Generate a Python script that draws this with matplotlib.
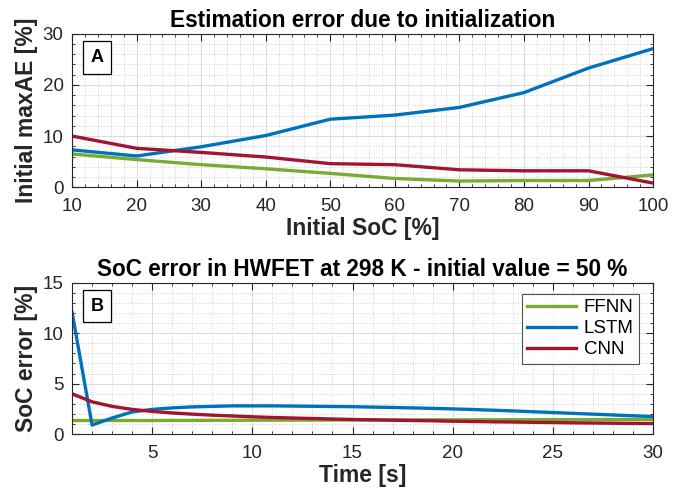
import numpy as np
import matplotlib
matplotlib.use('Agg')
import matplotlib.pyplot as plt
from matplotlib.ticker import MultipleLocator

plt.rcParams['font.family'] = ['Liberation Sans', 'DejaVu Sans']

# initial SoC sweep (panel A)
soc_init = [10, 20, 30, 40, 50, 60, 70, 80, 90, 100]
ffnn_maxae = [6.5, 5.4, 4.4, 3.6, 2.7, 1.7, 1.2, 1.3, 1.3, 2.4]
lstm_maxae = [7.3, 6.1, 7.9, 10.1, 13.3, 14.1, 15.6, 18.5, 23.3, 27.1]
cnn_maxae = [10.0, 7.6, 6.8, 5.9, 4.6, 4.4, 3.4, 3.2, 3.2, 0.8]

# HWFET error over the first 30 s (panel B)
time_s = list(range(1, 31))
ffnn_err = [1.35, 1.35, 1.35, 1.35, 1.35, 1.36, 1.36, 1.37, 1.37, 1.38,
            1.38, 1.39, 1.39, 1.40, 1.40, 1.40, 1.41, 1.41, 1.42, 1.42,
            1.42, 1.43, 1.43, 1.43, 1.44, 1.44, 1.44, 1.45, 1.45, 1.45]
lstm_err = [12.1, 0.9, 1.6, 2.2, 2.45, 2.6, 2.7, 2.75, 2.8, 2.8,
            2.8, 2.78, 2.76, 2.74, 2.72, 2.68, 2.64, 2.6, 2.55, 2.5,
            2.44, 2.37, 2.3, 2.22, 2.14, 2.06, 1.98, 1.9, 1.82, 1.74]
cnn_err = [4.0, 3.2, 2.75, 2.45, 2.25, 2.1, 1.98, 1.88, 1.8, 1.72,
           1.65, 1.6, 1.55, 1.5, 1.45, 1.42, 1.38, 1.35, 1.32, 1.28,
           1.25, 1.22, 1.2, 1.17, 1.15, 1.12, 1.1, 1.08, 1.06, 1.05]

green = '#77AC30'
blue = '#0072BD'
red = '#A2142F'
ink = '#262626'
lw = 2.4


def style_axes(ax):
    ax.grid(which='major', color='#dcdcdc', linestyle='-', linewidth=0.8)
    ax.grid(which='minor', color='#d0d0d0', linestyle=':', linewidth=0.7)
    ax.set_axisbelow(True)
    ax.tick_params(which='both', direction='in', top=True, right=True,
                   labelsize=13.5, colors=ink)
    ax.tick_params(axis='x', which='major', pad=8)
    ax.tick_params(axis='y', which='major', pad=6)
    ax.tick_params(which='major', length=5, width=0.8)
    ax.tick_params(which='minor', length=2.5, width=0.6)
    for sp in ax.spines.values():
        sp.set_color(ink)
        sp.set_linewidth(0.8)


def label_axes(ax, title, xlabel, ylabel):
    ax.set_title(title, fontsize=16.3, fontweight='bold', pad=5)
    ax.set_xlabel(xlabel, fontsize=16.5, fontweight='bold', color=ink, labelpad=1)
    ax.set_ylabel(ylabel, fontsize=16.5, fontweight='bold', color=ink)
    ax.yaxis.set_label_coords(-0.058, 0.5)


def panel_tag(ax, s):
    ax.text(0.043, 0.845, s, transform=ax.transAxes, fontsize=13,
            fontweight='bold', ha='center', va='center', zorder=5,
            bbox=dict(boxstyle='square,pad=0.42', fc='white', ec='black', lw=0.9))


fig = plt.figure(figsize=(6.86, 4.90), dpi=100)
ax1 = fig.add_axes([0.105, 0.618, 0.847, 0.313])
ax2 = fig.add_axes([0.105, 0.114, 0.847, 0.309])

ax1.plot(soc_init, ffnn_maxae, color=green, lw=lw)
ax1.plot(soc_init, lstm_maxae, color=blue, lw=lw)
ax1.plot(soc_init, cnn_maxae, color=red, lw=lw)
ax1.set_xlim(10, 100)
ax1.set_ylim(0, 30)
ax1.xaxis.set_major_locator(MultipleLocator(10))
ax1.xaxis.set_minor_locator(MultipleLocator(2))
ax1.yaxis.set_major_locator(MultipleLocator(10))
ax1.yaxis.set_minor_locator(MultipleLocator(2))
style_axes(ax1)
label_axes(ax1, 'Estimation error due to initialization',
           'Initial SoC [%]', 'Initial maxAE [%]')
panel_tag(ax1, 'A')

ax2.plot(time_s, ffnn_err, color=green, lw=lw, label='FFNN')
ax2.plot(time_s, lstm_err, color=blue, lw=lw, label='LSTM')
ax2.plot(time_s, cnn_err, color=red, lw=lw, label='CNN')
ax2.set_xlim(1, 30)
ax2.set_ylim(0, 15)
ax2.set_xticks([5, 10, 15, 20, 25, 30])
ax2.xaxis.set_minor_locator(MultipleLocator(1))
ax2.yaxis.set_major_locator(MultipleLocator(5))
ax2.yaxis.set_minor_locator(MultipleLocator(1))
style_axes(ax2)
label_axes(ax2, 'SoC error in HWFET at 298 K - initial value = 50 %',
           'Time [s]', 'SoC error [%]')
panel_tag(ax2, 'B')

leg = ax2.legend(loc='upper right', fontsize=13.5, frameon=True, fancybox=False,
                 edgecolor=ink, handlelength=2.6, borderpad=0.3,
                 labelspacing=0.2, handletextpad=0.4, borderaxespad=0,
                 bbox_to_anchor=(0.976, 0.928))
leg.get_frame().set_linewidth(0.8)

fig.savefig('out.png', dpi=100)
